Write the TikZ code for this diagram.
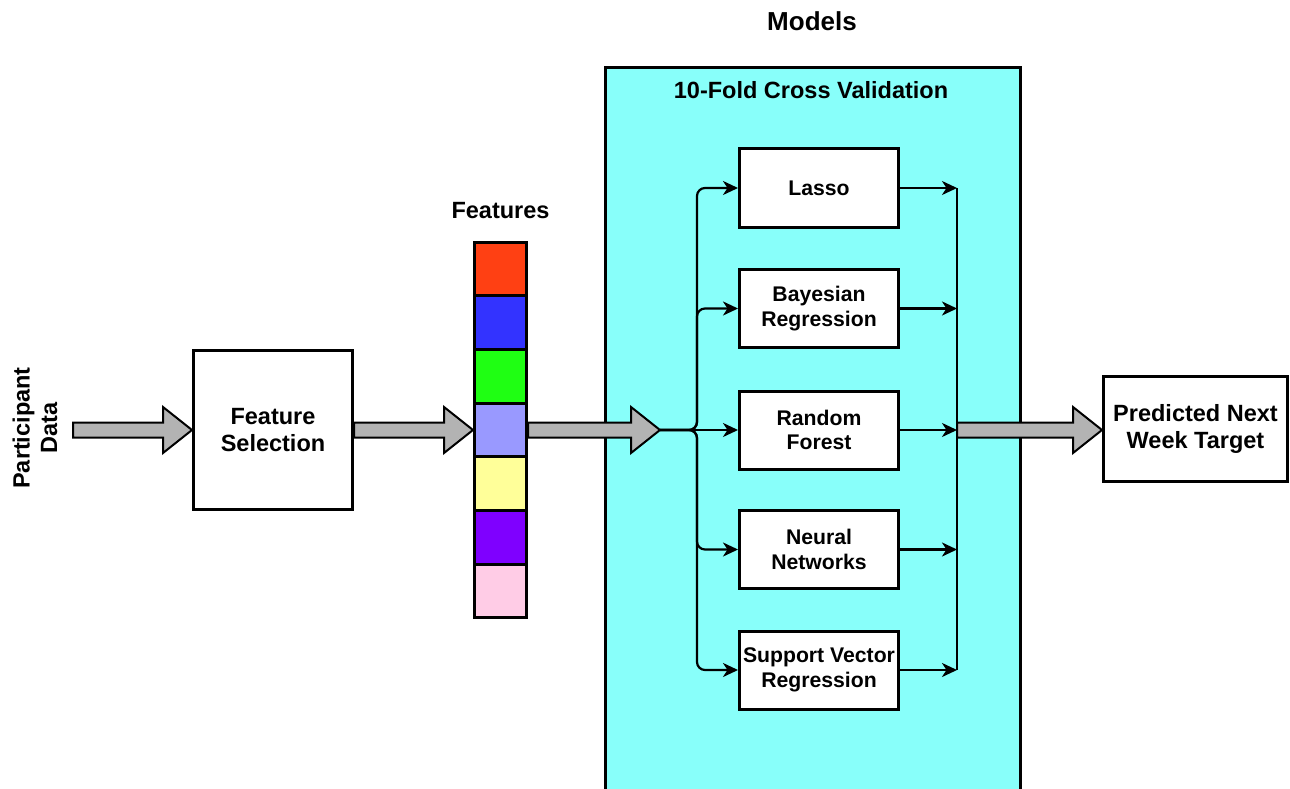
\documentclass[tikz,border=0pt]{standalone}
\usepackage{fontspec}
\setmainfont{Liberation Sans}
\usetikzlibrary{calc,arrows.meta}
\definecolor{cvfill}{HTML}{88FFFA}
\definecolor{arrowgray}{HTML}{B3B3B3}
\definecolor{fA}{HTML}{FF4013}
\definecolor{fB}{HTML}{3333FF}
\definecolor{fC}{HTML}{1FFF13}
\definecolor{fD}{HTML}{9999FF}
\definecolor{fE}{HTML}{FFFF99}
\definecolor{fF}{HTML}{7F00FF}
\definecolor{fG}{HTML}{FFCCE6}
\newcommand\bigarrow[2]{%
  \draw[barrow] let \p1=(#1), \p2=(#2) in
    (\x1,\y1+7.5pt) -- (\x2-29pt,\y1+7.5pt) -- (\x2-29pt,\y1+23pt) -- (\x2,\y1)
    -- (\x2-29pt,\y1-23pt) -- (\x2-29pt,\y1-7.5pt) -- (\x1,\y1-7.5pt) -- cycle;}
\begin{document}
\begin{tikzpicture}[x=1pt,y=-1pt,
  bigtext/.style={font=\bfseries\fontsize{23.5}{27.5}\selectfont,align=center},
  box/.style={draw,line width=3pt,fill=white,inner sep=0pt,bigtext},
  model/.style={draw,line width=3pt,fill=white,minimum width=159pt,minimum height=78pt,
    inner sep=0pt,align=center,font=\bfseries\fontsize{21.2}{24.5}\selectfont},
  cell/.style={draw,line width=3pt,minimum width=52pt,minimum height=53.7pt,inner sep=0pt},
  barrow/.style={draw,line width=2pt,fill=arrowgray,line join=miter},
  conn/.style={line width=2.2pt,rounded corners=8pt},
  tip/.style={-{Stealth[length=15pt,width=14pt,inset=4.5pt]}}
]
\useasboundingbox (0,0) rectangle (1290,789);
% cross validation panel
\fill[cvfill] (605,68) rectangle (1020,789);
\draw[line width=3pt] (605,789) -- (605,68) -- (1020,68) -- (1020,789);
\node[bigtext] (cvtitle) at (811,90) {10-Fold Cross Validation};
\node[font=\bfseries\fontsize{26}{30}\selectfont] (models) at (812,21) {Models};

% participant data
\node[bigtext,rotate=90] (pd) at (35,428) {Participant\\Data};
\coordinate (pdstart) at (73,430);

% feature selection
\node[box,minimum width=159pt,minimum height=159pt] (fs) at (273,430) {Feature\\Selection};

% features
\node[bigtext] (featlabel) at (500.5,211) {Features};
\node[cell,fill=fA] (f1) at (500.5,268.9) {};
\node[cell,fill=fB] (f2) at (500.5,322.6) {};
\node[cell,fill=fC] (f3) at (500.5,376.3) {};
\node[cell,fill=fD] (f4) at (500.5,430) {};
\node[cell,fill=fE] (f5) at (500.5,483.7) {};
\node[cell,fill=fF] (f6) at (500.5,537.4) {};
\node[cell,fill=fG] (f7) at (500.5,591.1) {};

% models
\node[model] (lasso) at (819,188) {Lasso};
\node[model] (bayes) at (819,308.5) {Bayesian\\Regression};
\node[model] (rf) at (819,430) {Random\\Forest};
\node[model] (nn) at (819,549.5) {Neural\\Networks};
\node[model] (svr) at (819,670) {Support Vector\\Regression};

% prediction
\node[box,minimum width=184pt,minimum height=105pt] (pred) at (1195.5,429) {Predicted Next\\Week Target};

% branching
\coordinate (split) at (660,430);
\coordinate (trunk) at (697,430);
\foreach \m in {lasso,bayes,nn,svr}{
  \draw[conn,tip] (split) -- (trunk) |- (\m.west);
}
\draw[conn,tip] (split) -- (rf.west);

% joining
\coordinate (join) at (957,430);
\draw[line width=2pt] (join |- lasso.east) -- (join |- svr.east);
\foreach \m in {lasso,bayes,rf,nn,svr}{
  \draw[line width=2.2pt,tip] (\m.east) -- (\m.east -| join);
}

% block arrows
\bigarrow{pdstart}{fs.west}
\bigarrow{fs.east}{f4.west}
\bigarrow{f4.east}{split}
\bigarrow{join}{pred.west}
\end{tikzpicture}
\end{document}
